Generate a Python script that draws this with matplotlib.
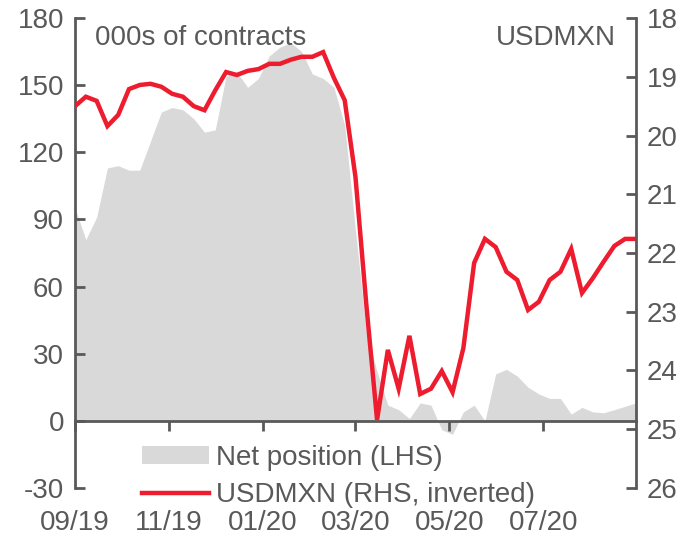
import matplotlib
matplotlib.use("Agg")
import matplotlib.pyplot as plt
import matplotlib.dates as mdates
import numpy as np
import pandas as pd
from matplotlib.patches import Patch
from matplotlib.lines import Line2D

plt.rcParams["font.family"] = ["Liberation Sans", "DejaVu Sans"]
plt.rcParams["axes.unicode_minus"] = False

# weekly observations, Sep 2019 - Aug 2020
dates = pd.date_range("2019-09-01", periods=53, freq="7D")

# net speculative position, 000s of contracts (LHS)
net_position = [
    95, 81, 91, 113, 114, 112, 112, 125, 138, 140,
    139, 135, 129, 130, 154, 156, 149, 153, 163, 167,
    169, 165, 155, 153, 149, 132, 85, 40, 22, 7,
    5, 1, 8, 7, -4, -6, 4, 7, 0, 21,
    23, 20, 15, 12, 10, 10, 3, 6, 4, 3.6,
    5, 6.5, 8,
]

# USDMXN spot (RHS, inverted)
usdmxn = [
    19.50, 19.34, 19.41, 19.84, 19.65, 19.21, 19.14, 19.12, 19.17, 19.29,
    19.34, 19.50, 19.57, 19.23, 18.92, 18.97, 18.90, 18.87, 18.78, 18.78,
    18.71, 18.66, 18.66, 18.58, 19.02, 19.40, 20.71, 22.87, 24.84, 23.65,
    24.31, 23.41, 24.40, 24.31, 24.01, 24.37, 23.62, 22.17, 21.76, 21.90,
    22.32, 22.46, 22.97, 22.83, 22.46, 22.32, 21.93, 22.68, 22.43, 22.15,
    21.88, 21.76, 21.76,
]

tick_dates = pd.to_datetime(["2019-09-01", "2019-11-01", "2020-01-01",
                             "2020-03-01", "2020-05-01", "2020-07-01"])
left_ticks = [-30, 0, 30, 60, 90, 120, 150, 180]
right_ticks = [18, 19, 20, 21, 22, 23, 24, 25, 26]

grey = "#d9d9d9"
red = "#ed1c2e"
txt = "#595959"

fig = plt.figure(figsize=(6.95, 5.36), dpi=100)
ax = fig.add_axes([0.108, 0.0896, 0.807, 0.8768])

ax.fill_between(dates, net_position, 0, color=grey, linewidth=0)
ax.set_ylim(-30, 180)
ax.set_yticks(left_ticks)
ax.set_xlim(dates[0], dates[-1])
ax.set_xticks(tick_dates)
ax.tick_params(axis="x", labelbottom=False, direction="out", length=7,
               width=2, color=txt)
ax.tick_params(axis="y", direction="in", length=7, width=2, color=txt,
               labelsize=20, labelcolor=txt, pad=8)
ax.spines["bottom"].set_position(("data", 0))
ax.spines["top"].set_visible(False)
ax.spines["right"].set_visible(False)
for s in ["left", "bottom"]:
    ax.spines[s].set_color(txt)
    ax.spines[s].set_linewidth(2)

# date labels sit below the plot area
sec = ax.secondary_xaxis(0.0)
sec.set_xticks(tick_dates)
sec.xaxis.set_major_formatter(mdates.DateFormatter("%m/%y"))
sec.tick_params(length=0, labelsize=20, labelcolor=txt, pad=16)
sec.spines["bottom"].set_visible(False)

ax2 = ax.twinx()
ax2.plot(dates, usdmxn, color=red, linewidth=3.2, solid_joinstyle="miter")
ax2.set_ylim(26, 18)
ax2.set_yticks(right_ticks)
ax2.tick_params(axis="y", direction="in", length=7, width=2, color=txt,
                labelsize=20, labelcolor=txt, pad=8)
for s in ["top", "left", "bottom"]:
    ax2.spines[s].set_visible(False)
ax2.spines["right"].set_color(txt)
ax2.spines["right"].set_linewidth(2)

ax.text(0.035, 0.985, "000s of contracts", transform=ax.transAxes,
        fontsize=20, color=txt, ha="left", va="top")
ax.text(0.965, 0.985, "USDMXN", transform=ax.transAxes,
        fontsize=20, color=txt, ha="right", va="top")

handles = [Patch(facecolor=grey, edgecolor="none", label="Net position (LHS)"),
           Line2D([0], [0], color=red, linewidth=3.2,
                  label="USDMXN (RHS, inverted)")]
leg = ax2.legend(handles=handles, loc="lower left", bbox_to_anchor=(0.1, -0.066),
                 frameon=False, fontsize=20, handlelength=2.4, handleheight=0.6,
                 handletextpad=0.25, labelspacing=0.39, borderaxespad=0)
for t in leg.get_texts():
    t.set_color(txt)

fig.savefig("out.png", dpi=100)
